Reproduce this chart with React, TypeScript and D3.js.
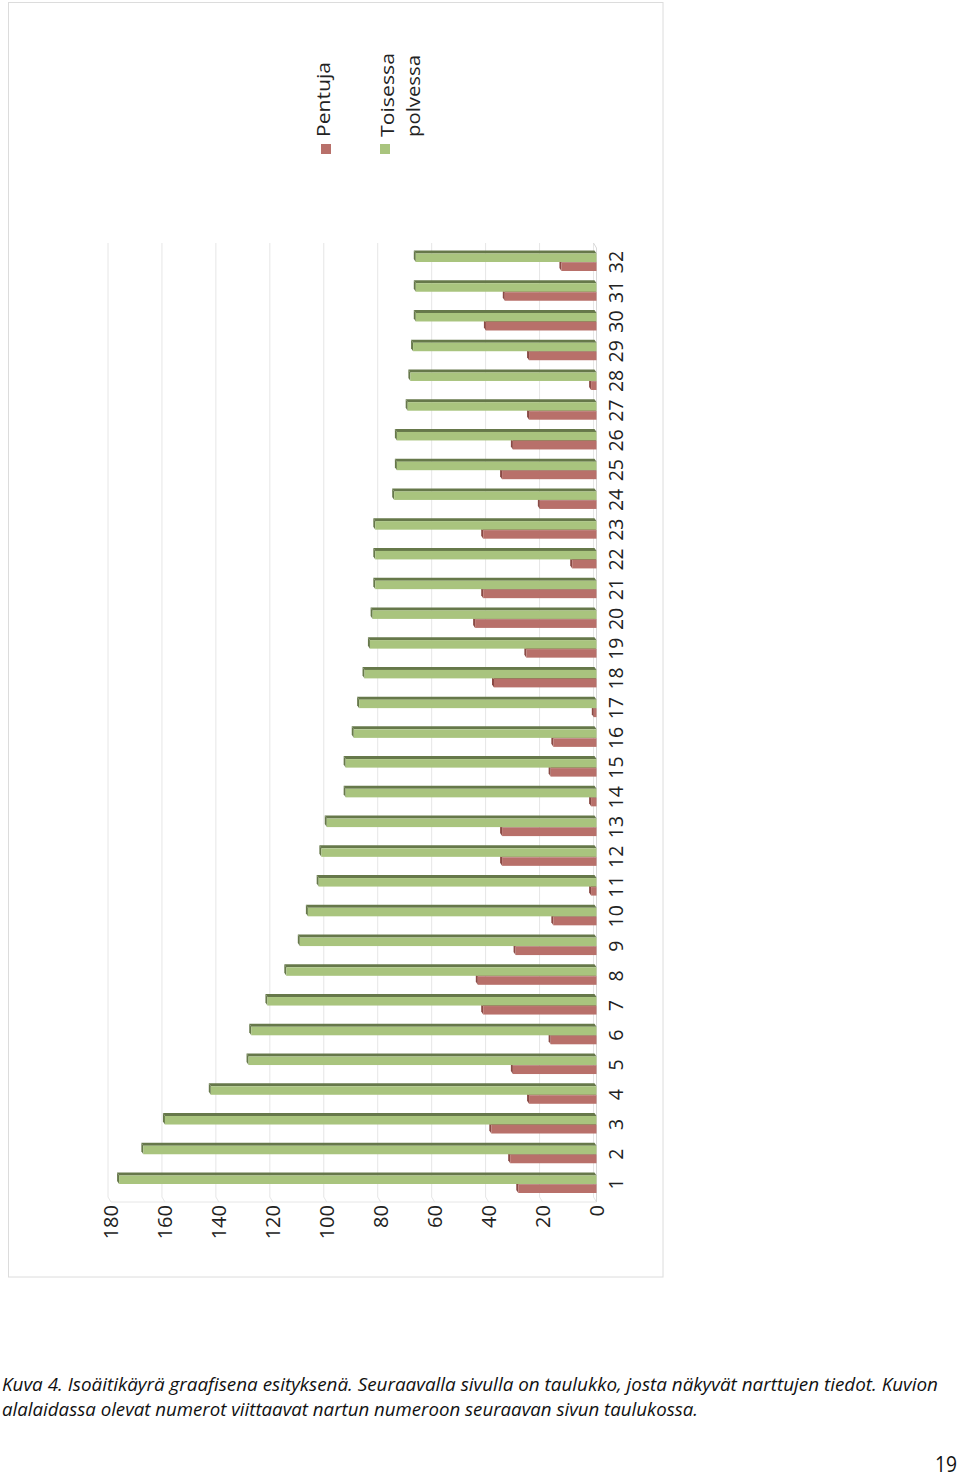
import React from "react";
import * as d3 from "d3";

const categories = Array.from({ length: 32 }, (_, i) => String(i + 1));
const pentuja = [29, 32, 39, 25, 31, 17, 42, 44, 30, 16, 2, 35, 35, 2, 17, 16, 1, 38, 26, 45, 42, 9, 42, 21, 35, 31, 25, 2, 25, 41, 34, 13];
const toisessa = [177, 168, 160, 143, 129, 128, 122, 115, 110, 107, 103, 102, 100, 93, 93, 90, 88, 86, 84, 83, 82, 82, 82, 75, 74, 74, 70, 69, 68, 67, 67, 67];
const valueTicks = [0, 20, 40, 60, 80, 100, 120, 140, 160, 180];
const legendLabels = ["Pentuja", "Toisessa", "polvessa"];
const captionLines = [
  "Kuva 4. Isoäitikäyrä graafisena esityksenä. Seuraavalla sivulla on taulukko, josta näkyvät narttujen tiedot. Kuvion",
  "alalaidassa olevat numerot viittaavat nartun numeroon seuraavan sivun taulukossa.",
];
const pageNumber = "19";

const FONT = "'Open Sans', 'Noto Sans', sans-serif";
const GREEN = "#A9C47E";
const GREEN_DARK = "#66784A";
const RED = "#B8706A";
const RED_DARK = "#8A4A45";
const GRID = "#e6e6e6";

export default function App() {
  const x = d3.scaleLinear().domain([0, 180]).range([596.5, 111]);
  const y = d3.scalePoint<string>().domain(categories).range([1184, 262]);
  const dx = -2;
  const dy = -3;
  const barH = 8.5;
  const floorY = 1202;
  const topY = 243;

  const bar = (v: number, y0: number, face: string, dark: string, key: string) => {
    const x0 = x(v);
    const x1 = x(0);
    const y1 = y0 + barH;
    const top = `M${x0},${y0} L${x1},${y0} L${x1 + dx},${y0 + dy} L${x0 + dx},${y0 + dy} Z`;
    const side = `M${x0},${y0} L${x0},${y1} L${x0 + dx},${y1 + dy} L${x0 + dx},${y0 + dy} Z`;
    return (
      <g key={key}>
        <path d={top} fill={dark} />
        <path d={side} fill={dark} />
        <rect x={x0} y={y0} width={x1 - x0} height={barH} fill={face} />
      </g>
    );
  };

  return (
    <svg
      width={960}
      height={1479}
      style={{ position: "absolute", left: 0, top: 0, background: "#fff" }}
      fontFamily={FONT}
    >
      {/* chart border */}
      <rect x={8.5} y={2.5} width={654.5} height={1274.5} fill="#fff" stroke="#dcdcdc" strokeWidth={1} />

      {/* gridlines (back wall + floor slant) */}
      {valueTicks.map((v) => (
        <g key={"g" + v} stroke={GRID} strokeWidth={1} fill="none">
          <line x1={x(v) - 3} y1={topY} x2={x(v) - 3} y2={floorY - 5} />
          <line x1={x(v) - 3} y1={floorY - 5} x2={x(v)} y2={floorY} />
        </g>
      ))}
      <line x1={x(180)} y1={floorY} x2={x(0)} y2={floorY} stroke={GRID} />
      <line x1={x(0)} y1={topY + 5} x2={x(0)} y2={floorY} stroke="#d8d8d8" />
      <line x1={x(0) - 3} y1={topY} x2={x(0)} y2={topY + 5} stroke="#d8d8d8" />

      {/* bars */}
      {categories.map((c, i) => {
        const cy = y(c) as number;
        return (
          <g key={"c" + c}>
            {bar(pentuja[i], cy + 0.5, RED, RED_DARK, "r" + c)}
            {bar(toisessa[i], cy - barH, GREEN, GREEN_DARK, "g" + c)}
          </g>
        );
      })}

      {/* value axis labels */}
      {valueTicks.map((v) => (
        <text
          key={"t" + v}
          transform={`translate(${x(v) + 7},1205) rotate(-90)`}
          textAnchor="end"
          fontSize={20}
          fill="#222"
        >
          {v}
        </text>
      ))}

      {/* category labels */}
      {categories.map((c) => (
        <text
          key={"l" + c}
          transform={`translate(622.5,${y(c)}) rotate(-90)`}
          textAnchor="middle"
          fontSize={19.5}
          fill="#222"
        >
          {c}
        </text>
      ))}

      {/* legend */}
      <rect x={321} y={144} width={10} height={10} fill={RED} />
      <text transform="translate(330,137) rotate(-90)" fontSize={18} fill="#222" textLength={75} lengthAdjust="spacingAndGlyphs">
        {legendLabels[0]}
      </text>
      <rect x={380} y={144} width={10} height={10} fill={GREEN} />
      <text transform="translate(394,137) rotate(-90)" fontSize={18} fill="#222" textLength={84} lengthAdjust="spacingAndGlyphs">
        {legendLabels[1]}
      </text>
      <text transform="translate(420,137) rotate(-90)" fontSize={18} fill="#222" textLength={82} lengthAdjust="spacingAndGlyphs">
        {legendLabels[2]}
      </text>

      {/* caption */}
      <text x={2} y={1391} fontSize={18} fontStyle="italic" fill="#111" textLength={936} lengthAdjust="spacingAndGlyphs">
        {captionLines[0]}
      </text>
      <text x={2} y={1416} fontSize={18} fontStyle="italic" fill="#111" textLength={696} lengthAdjust="spacingAndGlyphs">
        {captionLines[1]}
      </text>
      <text x={935} y={1472} fontSize={22} fill="#111" textLength={22} lengthAdjust="spacingAndGlyphs">
        {pageNumber}
      </text>
    </svg>
  );
}
